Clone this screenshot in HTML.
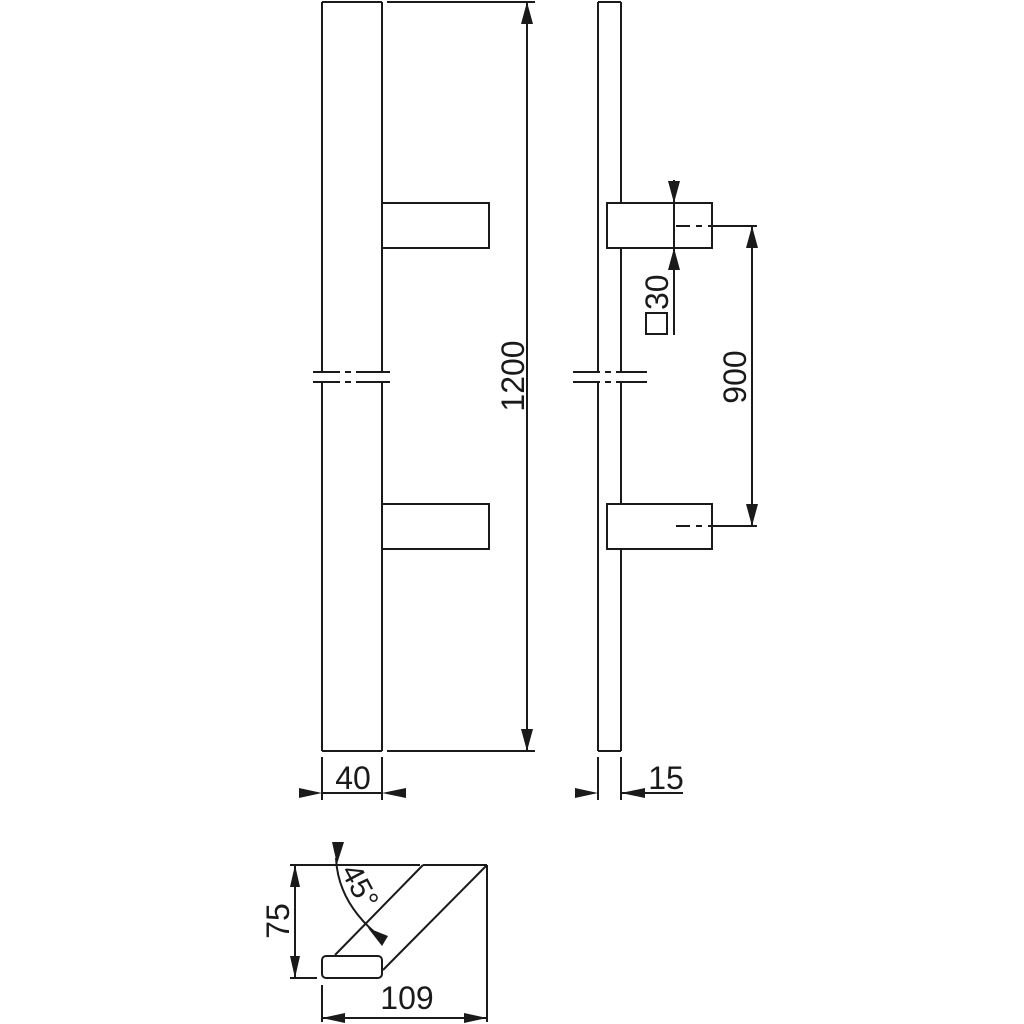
<!DOCTYPE html>
<html><head><meta charset="utf-8"><style>
html,body{margin:0;padding:0;background:#fff;}
svg{display:block}
text{font-family:"Liberation Sans",Arial,sans-serif;fill:#1a1a1a}
</style></head><body>
<svg width="1024" height="1024" viewBox="0 0 1024 1024" xmlns="http://www.w3.org/2000/svg">
<g stroke="#1a1a1a" stroke-width="2" fill="none">
<path d="M322,2 H382 M322,2 V371 M382,2 V371 M322,383 V751 M382,383 V751 M322,751 H382"/>
<path d="M313,372 H340 M345,372 H351 M356,372 H390 M313,382 H340 M345,382 H351 M356,382 H390"/>
<rect x="382" y="203" width="107" height="45"/>
<rect x="382" y="504" width="107" height="45"/>
<path d="M387,2 H535 M387,751 H535 M527,2 V751"/>
<path d="M598,2 H621 M598,2 V371 M621,2 V203 M621,248 V371 M598,383 V751 M621,383 V504 M621,549 V751 M598,751 H621"/>
<path d="M573,372 H600 M605,372 H611 M616,372 H647 M573,382 H600 M605,382 H611 M616,382 H647"/>
<rect x="607" y="203" width="105" height="45"/>
<rect x="607" y="504" width="105" height="45"/>
<path d="M674,180 V335"/>
<path d="M676,226 H690 M696,226 H702 M708,226 H757" />
<path d="M676,526 H690 M696,526 H702 M708,526 H757" />
<path d="M752,226 V526"/>
<rect x="646" y="313" width="21" height="21"/>
<path d="M322,757 V800 M382,757 V800 M322,793 H382"/>
<path d="M598,757 V800 M621,757 V800 M621,793 H683"/>
<path d="M290,865 H420 M423,865 H487 M335,955 L423,865 M383,970 L487,865 M487,865 V1022"/>
<rect x="322" y="956" width="60" height="22" rx="4"/>
<path d="M295,865 V978 M290,978 H317 M322,985 V1022 M322,1018 H487"/>
<path d="M336,858 Q338,905 384,940"/>
</g>
<g fill="#1a1a1a">
<polygon points="527,2 521,24 533,24"/><polygon points="527,751 521,729 533,729"/>
<polygon points="674,203 668,181 680,181"/><polygon points="674,248 668,270 680,270"/>
<polygon points="752,226 746,248 758,248"/><polygon points="752,526 746,504 758,504"/>
<polygon points="322,793 299,788 299,798"/><polygon points="382,793 406,788 406,798"/>
<polygon points="598,793 575,788 575,798"/><polygon points="621,793 645,788 645,798"/>
<polygon points="295,865 290,887 300,887"/><polygon points="295,978 290,956 300,956"/>
<polygon points="322,1018 345,1013 345,1023"/><polygon points="487,1018 464,1013 464,1023"/>
<polygon points="337,864 332,842 344,842"/><polygon points="368,928 382,946 388,936"/>
</g>
<text x="0" y="0" font-size="32" text-anchor="middle" transform="translate(524,376) rotate(-90)">1200</text>
<text x="0" y="0" font-size="32" text-anchor="middle" transform="translate(746,377) rotate(-90)">900</text>
<text x="0" y="0" font-size="32" text-anchor="start" transform="translate(668,310) rotate(-90)">30</text>
<text x="353" y="789" font-size="32" text-anchor="middle">40</text>
<text x="666" y="789" font-size="32" text-anchor="middle">15</text>
<text x="0" y="0" font-size="32" text-anchor="middle" transform="translate(289,921) rotate(-90)">75</text>
<text x="407" y="1009" font-size="32" text-anchor="middle">109</text>
<text x="0" y="0" font-size="30" text-anchor="middle" transform="translate(351,891) rotate(62)">45°</text>
</svg>
</body></html>
